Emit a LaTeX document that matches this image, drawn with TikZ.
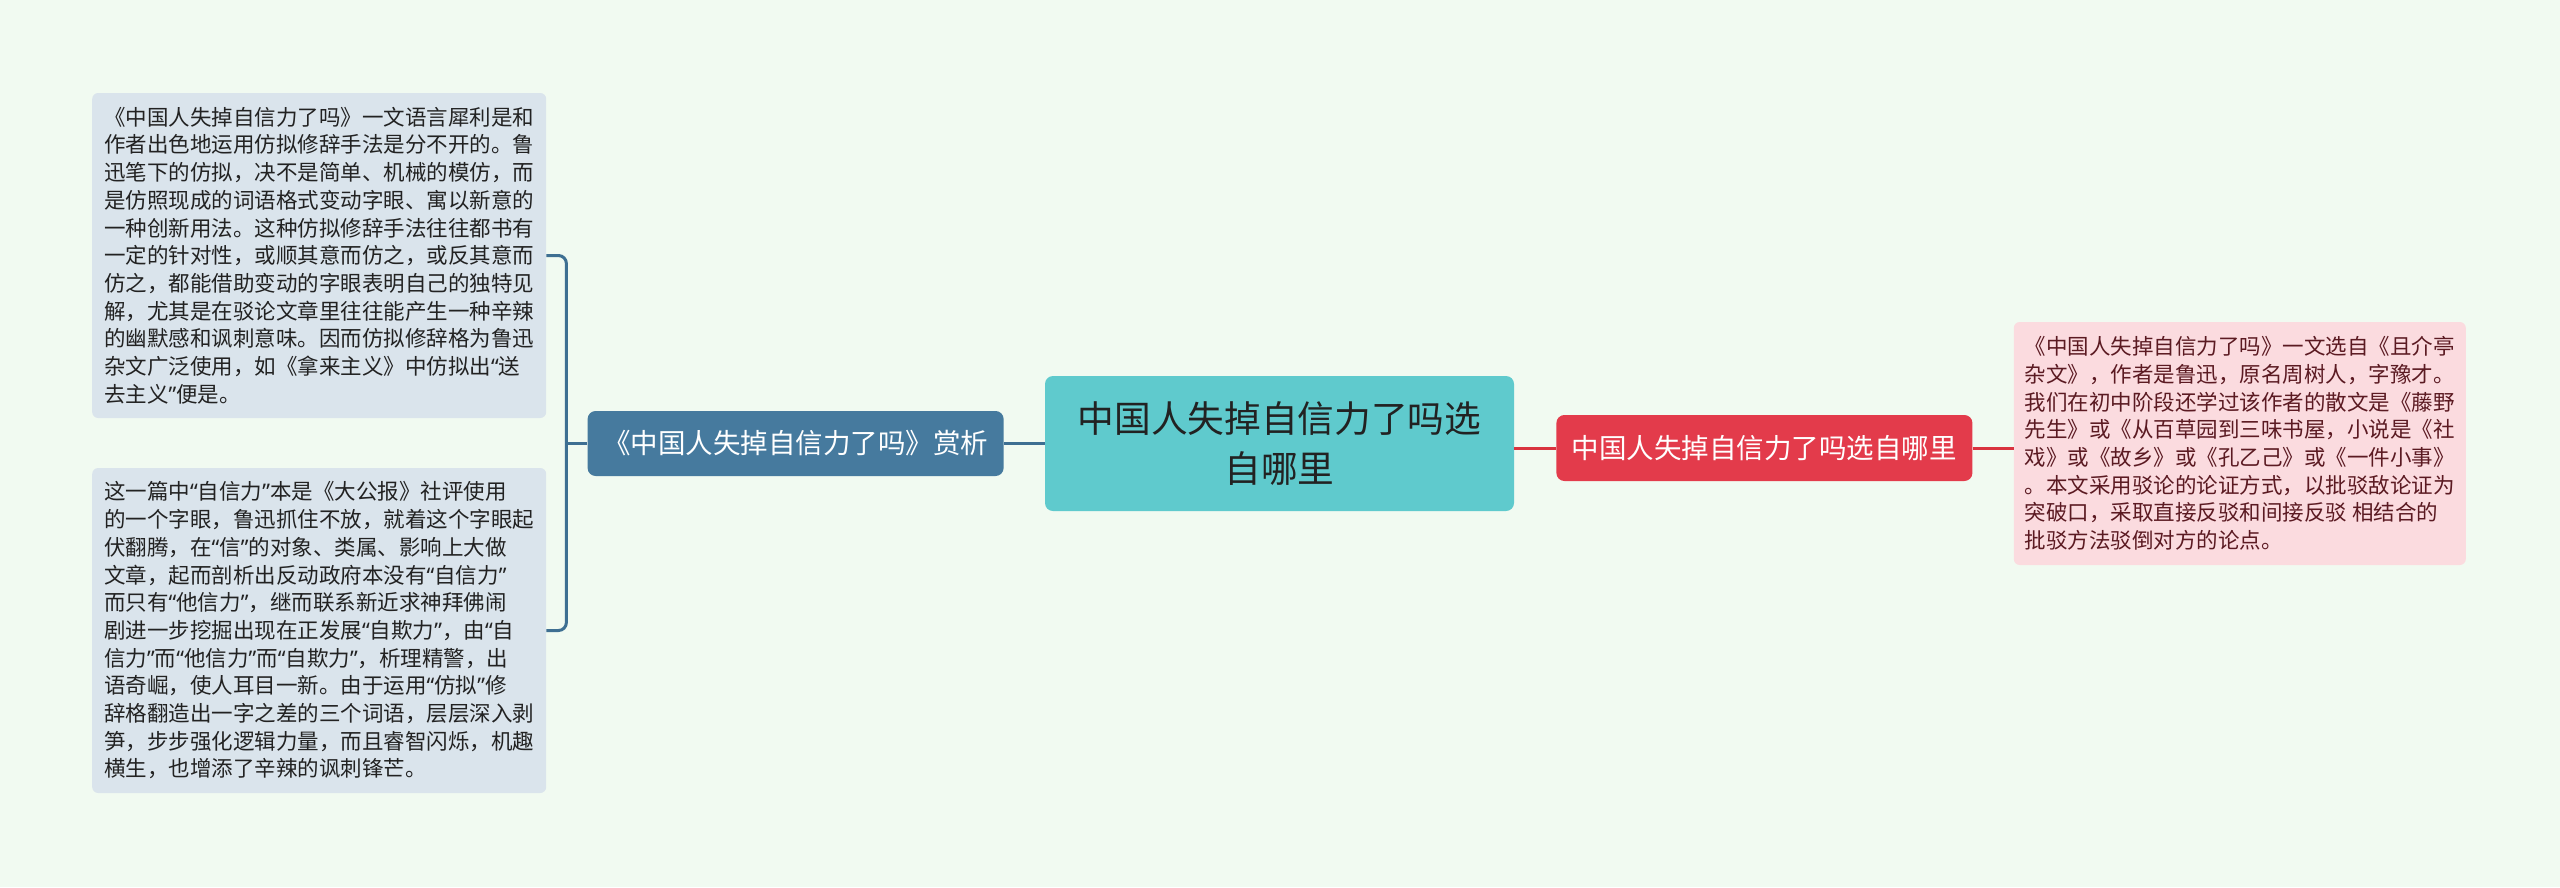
\documentclass[tikz,border=0pt]{standalone}
\usepackage{fontspec}
\setmainfont{Noto Sans CJK SC}
\newfontfamily\mindquotefont{Noto Sans}
\newcommand{\mindlq}{{\mindquotefont “}}
\newcommand{\mindrq}{{\mindquotefont ”}}
\usetikzlibrary{positioning}
\definecolor{MindPaper}{HTML}{F1FAF1}
\definecolor{MindTeal}{HTML}{5FCACD}
\definecolor{MindSteel}{HTML}{467A9E}
\definecolor{MindSteelLine}{HTML}{3E6F92}
\definecolor{MindMist}{HTML}{DAE4EC}
\definecolor{MindRed}{HTML}{E33B4B}
\definecolor{MindRedLine}{HTML}{D9333F}
\definecolor{MindBlush}{HTML}{FBDBDF}
\definecolor{MindWine}{HTML}{5B1A22}
\definecolor{MindInk}{HTML}{222222}
\tikzset{
  mindroot/.style={
    fill=MindTeal,
    rounded corners=8pt,
    align=center,
    minimum width=469pt,
    minimum height=135pt,
    text=MindInk,
    font=\fontsize{36.7pt}{50pt}\selectfont
  },
  mindbranch/.style={
    rounded corners=8pt,
    align=center,
    minimum width=416pt,
    minimum height=65pt,
    text=white,
    font=\fontsize{27.5pt}{32pt}\selectfont
  },
  mindnote/.style={
    rounded corners=6pt,
    align=left,
    font=\fontsize{21.5pt}{27.7pt}\selectfont
  },
  mindbluelink/.style={draw=MindSteelLine,line width=3pt},
  mindredlink/.style={draw=MindRedLine,line width=3pt}
}
\begin{document}
\begin{tikzpicture}[x=1pt,y=-1pt,node distance=41pt]
  \fill[MindPaper] (0,0) rectangle (2560,887);
  \node[mindroot] (root) at (1279.5,443.5) {中国人失掉自信力了吗选\\自哪里};
  % left side
  \node[mindbranch,fill=MindSteel,left=of root] (review) {《中国人失掉自信力了吗》赏析};
  \node[mindnote,fill=MindMist,text=MindInk,minimum width=454pt,minimum height=325pt,left=of review,yshift=188pt] (upper) {《中国人失掉自信力了吗》一文语言犀利是和\\作者出色地运用仿拟修辞手法是分不开的。鲁\\迅笔下的仿拟，决不是简单、机械的模仿，而\\是仿照现成的词语格式变动字眼、寓以新意的\\一种创新用法。这种仿拟修辞手法往往都书有\\一定的针对性，或顺其意而仿之，或反其意而\\仿之，都能借助变动的字眼表明自己的独特见\\解，尤其是在驳论文章里往往能产生一种辛辣\\的幽默感和讽刺意味。因而仿拟修辞格为鲁迅\\杂文广泛使用，如《拿来主义》中仿拟出\mindlq 送\\去主义\mindrq 便是。};
  \node[mindnote,fill=MindMist,text=MindInk,minimum width=454pt,minimum height=325pt,left=of review,yshift=-187pt] (lower) {这一篇中\mindlq 自信力\mindrq 本是《大公报》社评使用\\的一个字眼，鲁迅抓住不放，就着这个字眼起\\伏翻腾，在\mindlq 信\mindrq 的对象、类属、影响上大做\\文章，起而剖析出反动政府本没有\mindlq 自信力\mindrq\\而只有\mindlq 他信力\mindrq ，继而联系新近求神拜佛闹\\剧进一步挖掘出现在正发展\mindlq 自欺力\mindrq ，由\mindlq 自\\信力\mindrq 而\mindlq 他信力\mindrq 而\mindlq 自欺力\mindrq ，析理精警，出\\语奇崛，使人耳目一新。由于运用\mindlq 仿拟\mindrq 修\\辞格翻造出一字之差的三个词语，层层深入剥\\笋，步步强化逻辑力量，而且睿智闪烁，机趣\\横生，也增添了辛辣的讽刺锋芒。};
  \coordinate (fork) at ([xshift=-21pt]review.west);
  \draw[mindbluelink] (root.west) -- (review.east);
  \draw[mindbluelink] (review.west) -- (fork);
  \draw[mindbluelink,rounded corners=8pt] (upper.east) -| (fork) |- (lower.east);
  % right side
  \node[mindbranch,fill=MindRed,minimum height=66pt,right=42pt of root,yshift=-4.5pt] (source) {中国人失掉自信力了吗选自哪里};
  \node[mindnote,fill=MindBlush,text=MindWine,minimum width=452pt,minimum height=243pt,right=of source,yshift=4.5pt] (answer) {《中国人失掉自信力了吗》一文选自《且介亭\\杂文》，作者是鲁迅，原名周树人，字豫才。\\我们在初中阶段还学过该作者的散文是《藤野\\先生》或《从百草园到三味书屋，小说是《社\\戏》或《故乡》或《孔乙己》或《一件小事》\\。本文采用驳论的论证方式，以批驳敌论证为\\突破口，采取直接反驳和间接反驳 相结合的\\批驳方法驳倒对方的论点。};
  \draw[mindredlink] (source.west -| root.east) -- (source.west);
  \draw[mindredlink] (source.east) -- (source.east -| answer.west);
\end{tikzpicture}
\end{document}
